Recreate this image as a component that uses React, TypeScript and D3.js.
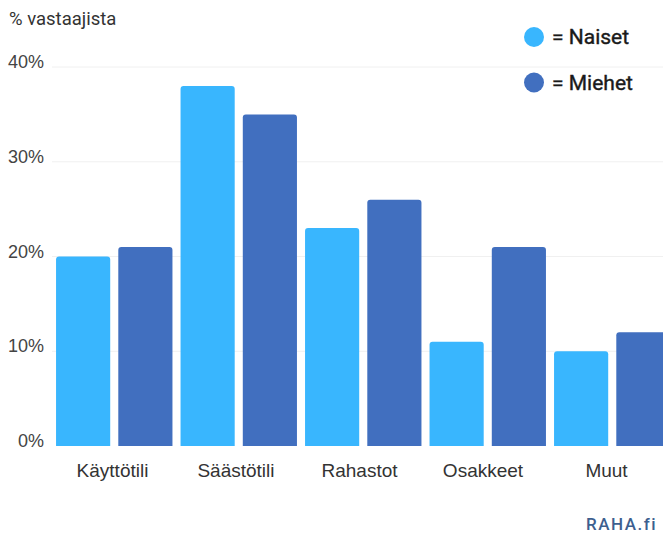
import React from "react";
import * as d3 from "d3";

const categories = ["Käyttötili", "Säästötili", "Rahastot", "Osakkeet", "Muut"];
const seriesNames = ["Naiset", "Miehet"];
const naiset = [20, 38, 23, 11, 10];
const miehet = [21, 35, 26, 21, 12];
const yTicks = [0, 10, 20, 30, 40];
const colors = ["#39b6fe", "#416fbf"];

export default function App() {
  const W = 663, H = 533;
  const x0 = d3.scaleBand().domain(categories).range([52, 674.5]).paddingInner(0).paddingOuter(0);
  const x1 = d3.scaleBand().domain(seriesNames).range([0, x0.bandwidth()]).paddingInner(0.13).paddingOuter(0.065);
  const xl = d3.scalePoint().domain(categories).range([112.5, 606.5]);
  const y = d3.scaleLinear().domain([0, 40]).range([446, 67]);
  const series = [naiset, miehet];
  const font = "Roboto, 'Noto Sans', sans-serif";
  const arial = "'Liberation Sans', Arial, sans-serif";
  const r = 3;
  const barPath = (x: number, yt: number, w: number, yb: number) =>
    `M${x},${yb}V${yt + r}Q${x},${yt} ${x + r},${yt}H${x + w - r}Q${x + w},${yt} ${x + w},${yt + r}V${yb}Z`;
  return (
    <svg width={W} height={H} style={{ position: "absolute", left: 0, top: 0, background: "#fff" }} fontFamily={font}>
      <rect width={W} height={H} fill="#fff" />
      {yTicks.slice(1).map((t) => (
        <line key={t} x1={52} x2={W} y1={y(t)} y2={y(t)} stroke="#f0f0f0" strokeWidth={1} />
      ))}
      {yTicks.map((t) => (
        <text key={t} x={44} y={y(t) + 1} textAnchor="end" fontSize={18} fill="#444" fontFamily={arial}>
          {t}%
        </text>
      ))}
      <text x={9} y={25} fontSize={18.5} fill="#333">% vastaajista</text>
      {categories.map((c, i) => (
        <g key={c}>
          {seriesNames.map((s, j) => {
            const bx = (x0(c) as number) + (x1(s) as number);
            return (
              <path key={s} d={barPath(bx, y(series[j][i]), x1.bandwidth(), y(0))} fill={colors[j]} />
            );
          })}
          <text x={xl(c) as number} y={477} textAnchor="middle" fontSize={19} fill="#333" fontFamily={arial}>
            {c}
          </text>
        </g>
      ))}
      {seriesNames.map((s, j) => (
        <g key={s}>
          <circle cx={534} cy={37 + j * 45.5} r={10} fill={colors[j]} />
          <text x={552} y={37 + j * 45.5} dy="0.35em" fontSize={21} fill="#1a1a1a" stroke="#1a1a1a" strokeWidth={0.4}>= {s}</text>
        </g>
      ))}
      <text x={657} y={530} textAnchor="end" fontSize={17} fill="#3d5f8f" fontWeight={500} letterSpacing={1.5}>
        RAHA.fi
      </text>
    </svg>
  );
}
